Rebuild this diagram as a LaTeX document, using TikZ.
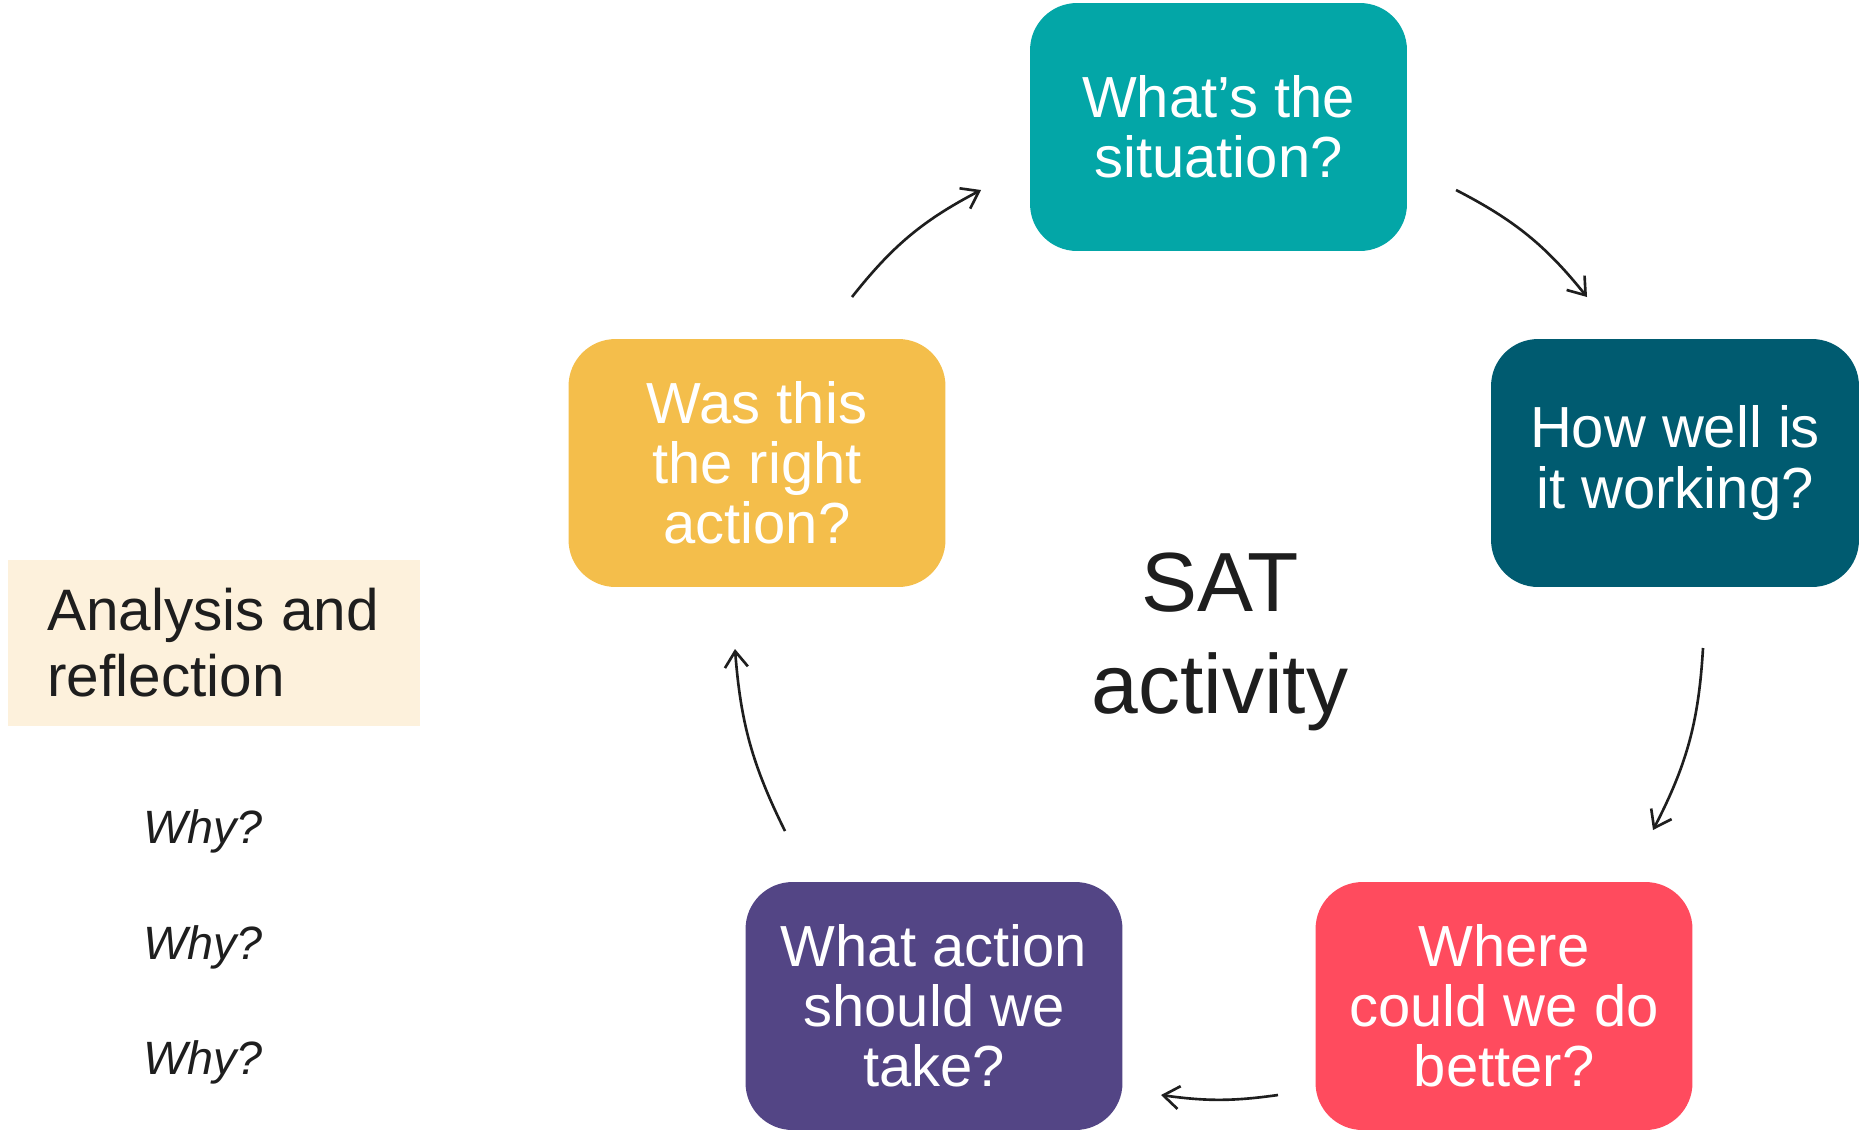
\documentclass[tikz,border=0pt]{standalone}
\usepackage{fontspec}
\setmainfont{Liberation Sans}
\usetikzlibrary{arrows.meta}
\definecolor{cteal}{RGB}{3,166,167}
\definecolor{cdeep}{RGB}{0,91,112}
\definecolor{cyellow}{RGB}{244,190,75}
\definecolor{cpurple}{RGB}{83,69,133}
\definecolor{cred}{RGB}{255,75,94}
\definecolor{ccream}{RGB}{253,241,220}
\definecolor{cdark}{RGB}{30,30,30}
\begin{document}
\begin{tikzpicture}[x=0.02cm,y=-0.02cm,
  qbox/.style={rectangle, rounded corners=0.94cm, minimum width=7.54cm,
    minimum height=4.96cm, text=white, align=center, inner sep=0pt,
    font=\fontsize{33}{34.2}\selectfont},
  flow/.style={line width=1.5pt, draw=cdark,
    -{Straight Barb[length=0.32cm,width=0.46cm]}},
  why/.style={anchor=base west, inner sep=0pt, text=cdark,
    font=\fontsize{26.6}{28}\selectfont\itshape}
]
\useasboundingbox (0,0) rectangle (1859,1130);

% question boxes
\node[qbox, fill=cteal] (sit) at (1218.5,127) {What’s the\\situation?};
\node[qbox, fill=cdeep, minimum width=7.36cm] (work) at (1675,463) {How well is\\it working?};
\node[qbox, fill=cred] (better) at (1504,1006) {Where\\could we do\\better?};
\node[qbox, fill=cpurple] (act) at (934,1006) {What action\\should we\\take?};
\node[qbox, fill=cyellow] (right) at (757,463) {Was this\\the right\\action?};

% centre label
\node[align=center, inner sep=0pt, text=cdark,
  font=\fontsize{47.8}{58}\selectfont] (sat) at (1220,642) {SAT\\activity};

% side panel
\node[fill=ccream, minimum width=8.24cm, minimum height=3.32cm, inner sep=0pt,
  anchor=north west] (panel) at (8,560) {};
\node[anchor=north west, align=left, inner sep=0pt, text=cdark,
  font=\fontsize{33.3}{37.6}\selectfont] (ar) at (47,588) {Analysis and\\reflection};

\node[why] (w1) at (143,843) {Why?};
\node[why] (w2) at (143,959) {Why?};
\node[why] (w3) at (143,1074) {Why?};

% cycle arrows
\coordinate (a1s) at (852,297);  \coordinate (a1e) at (981,190);
\coordinate (a2s) at (1456,190); \coordinate (a2e) at (1587,297);
\coordinate (a3s) at (1703,648); \coordinate (a3e) at (1653,830);
\coordinate (a4s) at (1278,1095); \coordinate (a4e) at (1161,1095);
\coordinate (a5s) at (785,831);  \coordinate (a5e) at (735,649);

\draw[flow] (a1s) to[bend left=12] (a1e);
\draw[flow] (a2s) to[bend left=12] (a2e);
\draw[flow] (a3s) to[bend left=12] (a3e);
\draw[flow] (a4s) to[bend left=8] (a4e);
\draw[flow] (a5s) to[bend left=11] (a5e);
\end{tikzpicture}
\end{document}
